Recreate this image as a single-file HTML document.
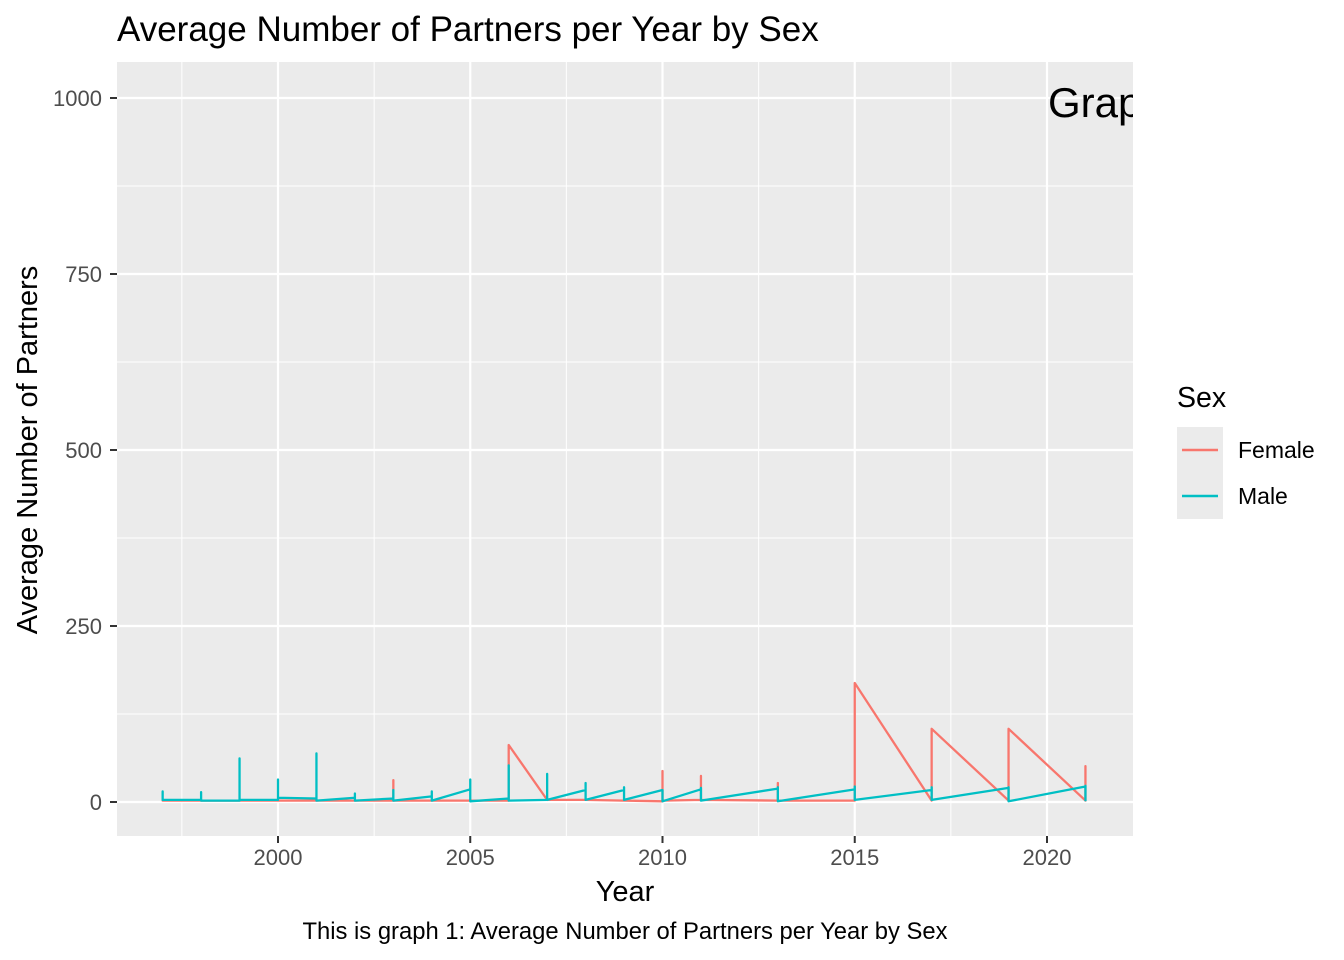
<!DOCTYPE html>
<html><head><meta charset="utf-8"><style>
body{margin:0;background:#fff;}
svg{display:block;font-family:"Liberation Sans",sans-serif;}
</style></head><body>
<svg id="chart" width="1344" height="960">
<rect x="0" y="0" width="1344" height="960" fill="#fff"/>
<text x="117" y="41" font-size="35" fill="#000">Average Number of Partners per Year by Sex</text>
<rect x="117" y="62" width="1016" height="774" fill="#ebebeb"/>
<g id="grid"></g>
<g id="lines"></g>
<defs><clipPath id="pc"><rect x="117" y="62" width="1016" height="774"/></clipPath></defs>
<text x="1048" y="117" font-size="42" fill="#000" clip-path="url(#pc)">Graph 1</text>
<g id="axes"></g>
<text x="625" y="901" font-size="29" text-anchor="middle" fill="#000">Year</text>
<text transform="translate(37,450) rotate(-90)" font-size="29" text-anchor="middle" fill="#000">Average Number of Partners</text>
<text x="625" y="939" font-size="23.8" text-anchor="middle" fill="#000">This is graph 1: Average Number of Partners per Year by Sex</text>
<g>
<text x="1177" y="407" font-size="28.5" fill="#000">Sex</text>
<rect x="1177" y="427" width="46" height="46" fill="#ebebeb"/>
<line x1="1182" y1="450" x2="1218" y2="450" stroke="#F8766D" stroke-width="2.5"/>
<text x="1238" y="458" font-size="23" fill="#000">Female</text>
<rect x="1177" y="473" width="46" height="46" fill="#ebebeb"/>
<line x1="1182" y1="496" x2="1218" y2="496" stroke="#00BFC4" stroke-width="2.5"/>
<text x="1238" y="504" font-size="23" fill="#000">Male</text>
</g>
</svg>
<script>
const years = [1997,1998,1999,2000,2001,2002,2003,2004,2005,2006,2007,2008,2009,2010,2011,2013,2015,2017,2019,2021];
const maleArrive = [3,3,2,3,5,6,5,8,18,5,3,17,17,17,18,19,18,17,20,22];
const malePeak   = [15,14,62,32,69,12,17,15,32,52,40,27,21,17,20,21,22,21,21,23];
const maleLeave  = [3,2,3,6,2,2,2,2,1,2,3,3,3,1,2,1,3,3,1,1];
const femaleArrive = [2,2,2,2,2,2,2,2,2,2,3,3,2,1,3,2,2,2,2,2];
const femalePeak   = [3,3,3,3,3,3,31,3,3,81,4,4,3,44,37,27,169,104,104,51];
const femaleLeave  = [2,2,2,2,2,2,2,2,2,81,3,3,2,2,3,2,169,104,104,2];
const yTicks = [0,250,500,750,1000];
const xTicks = [2000,2005,2010,2015,2020];
const yMinor = [125,375,625,875];
const xMinor = [1997.5,2002.5,2007.5,2012.5,2017.5];

const NS="http://www.w3.org/2000/svg";
const xs = v => 278 + (v-2000)*38.45;
const ys = v => 802 - v*0.704;
function mk(tag, attrs, parent){const e=document.createElementNS(NS,tag);for(const k in attrs)e.setAttribute(k,attrs[k]);parent.appendChild(e);return e;}
const grid=document.getElementById('grid'), axes=document.getElementById('axes'), lines=document.getElementById('lines');
yMinor.forEach(v=>{const l=mk('line',{x1:117,x2:1133,y1:ys(v),y2:ys(v),stroke:'#fff','stroke-width':1},grid);

});
xMinor.forEach(v=>{const l=mk('line',{x1:xs(v),x2:xs(v),y1:62,y2:836,stroke:'#fff','stroke-width':1},grid);

});
yTicks.forEach(v=>{const l=mk('line',{x1:117,x2:1133,y1:ys(v),y2:ys(v),stroke:'#fff','stroke-width':2.2},grid);


const t=mk('line',{x1:110,x2:117,y1:ys(v),y2:ys(v),stroke:'#333','stroke-width':2},axes);


const tx=mk('text',{x:102,y:ys(v)+8,'font-size':22,'text-anchor':'end',fill:'#4d4d4d'},axes);tx.textContent=v;

});
xTicks.forEach(v=>{const l=mk('line',{x1:xs(v),x2:xs(v),y1:62,y2:836,stroke:'#fff','stroke-width':2.2},grid);


const t=mk('line',{x1:xs(v),x2:xs(v),y1:836,y2:843,stroke:'#333','stroke-width':2},axes);


const tx=mk('text',{x:xs(v),y:865,'font-size':22,'text-anchor':'middle',fill:'#4d4d4d'},axes);tx.textContent=v;

});
function path(a,p,lv){let d='';years.forEach((y,i)=>{const x=xs(y);d+=(i?'L':'M')+x+','+ys(a[i])+'L'+x+','+ys(p[i])+'L'+x+','+ys(lv[i]);});return d;}
const f=mk('path',{d:path(femaleArrive,femalePeak,femaleLeave),fill:'none',stroke:'#F8766D','stroke-width':2.3,'stroke-linejoin':'round'},lines);


const m=mk('path',{d:path(maleArrive,malePeak,maleLeave),fill:'none',stroke:'#00BFC4','stroke-width':2.3,'stroke-linejoin':'round'},lines);


</script>
</body></html>
